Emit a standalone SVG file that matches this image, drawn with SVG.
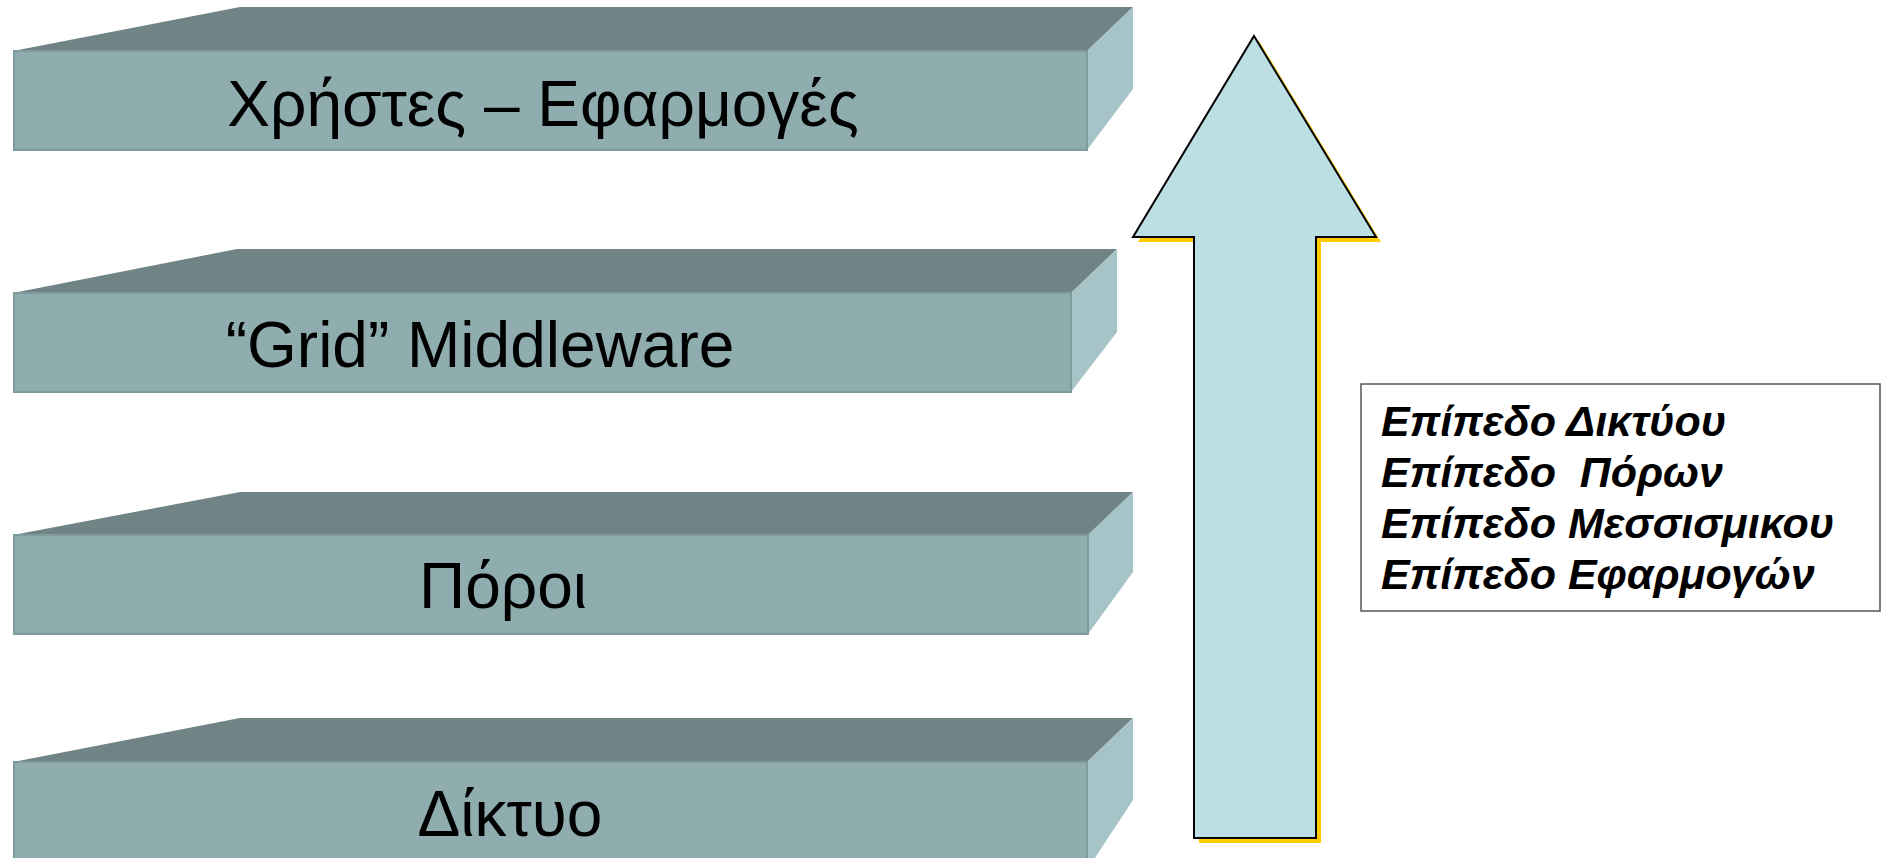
<svg xmlns="http://www.w3.org/2000/svg" width="1885" height="858" viewBox="0 0 1885 858">
<style>
.front{fill:#8FACAE;stroke:#7F9B9D;stroke-width:2}
.top{fill:#708485}
.side{fill:#A6C4C7}
.lbl{font-family:"Liberation Sans",Arial,sans-serif;font-size:64px;fill:#000;text-anchor:middle}
.leg{font-family:"Liberation Sans",Arial,sans-serif;font-size:43px;font-weight:bold;font-style:italic;fill:#000}
</style>
<rect width="1885" height="858" fill="#fff"/>
<g id="layer-users">
<polygon class="top" points="13,51 240,7 1133,7 1087,51"/>
<polygon class="side" points="1087,51 1133,7 1133,89 1087,150"/>
<rect class="front" x="14" y="51" width="1073" height="99"/>
<text class="lbl" x="543" y="126">Χρήστες – Εφαρμογές</text>
</g>
<g id="layer-middleware">
<polygon class="top" points="13,293 237,249 1117,249 1071,293"/>
<polygon class="side" points="1071,293 1117,249 1117,332 1071,392"/>
<rect class="front" x="14" y="293" width="1057" height="99"/>
<text class="lbl" x="480" y="367">“Grid” Middleware</text>
</g>
<g id="layer-resources">
<polygon class="top" points="13,535 240,492 1133,492 1088,535"/>
<polygon class="side" points="1088,535 1133,492 1133,572 1088,634"/>
<rect class="front" x="14" y="535" width="1074" height="99"/>
<text class="lbl" x="503" y="608">Πόροι</text>
</g>
<g id="layer-network">
<polygon class="top" points="13,762 240,718 1133,718 1087,762"/>
<polygon class="side" points="1087,762 1133,718 1133,800 1087,870"/>
<rect class="front" x="14" y="762" width="1073" height="110"/>
<text class="lbl" x="510" y="836">Δίκτυο</text>
</g>
<g id="arrow">
<polygon points="1259,41 1381,242 1321,242 1321,843 1199,843 1199,242 1138,242" fill="#FFCC00"/>
<polygon points="1254,36 1376,237 1316,237 1316,838 1194,838 1194,237 1133,237" fill="#BBDFE2" stroke="#000" stroke-width="2"/>
</g>
<g id="legend">
<rect x="1361" y="384" width="519" height="227" fill="#fff" stroke="#555" stroke-width="1.5"/>
<text class="leg" x="1381" y="436">Επίπεδο Δικτύου</text>
<text class="leg" x="1381" y="487" xml:space="preserve">Επίπεδο  Πόρων</text>
<text class="leg" x="1381" y="538">Επίπεδο Μεσσισμικου</text>
<text class="leg" x="1381" y="589">Επίπεδο Εφαρμογών</text>
</g>
</svg>
